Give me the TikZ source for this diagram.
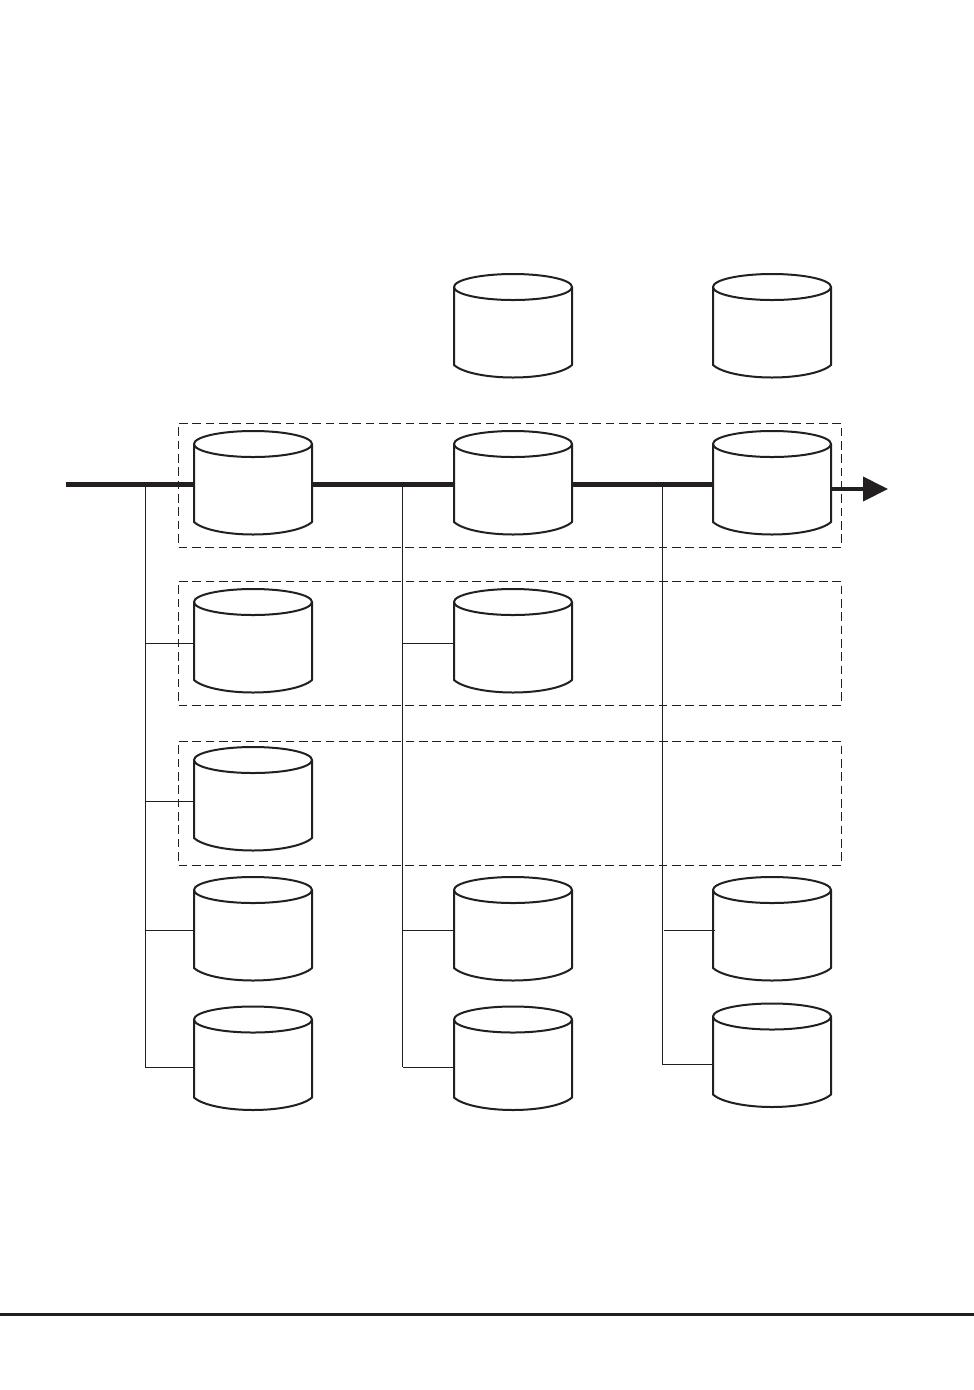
\documentclass[tikz,border=0pt]{standalone}
\usetikzlibrary{arrows.meta,calc}
\definecolor{ink}{HTML}{231F20}
\tikzset{
  x=0.75pt,y=-0.75pt,
  cylbox/.style={rectangle,inner sep=0pt,minimum width=88.5pt,minimum height=77.25pt},
  cylline/.style={draw=ink,line width=1.5pt,line join=round},
  mainline/.style={draw=ink,line width=3.1pt},
  branch/.style={draw=ink,line width=0.65pt},
  groupbox/.style={draw=ink,line width=0.6pt,dash pattern=on 6.5pt off 3.5pt},
  rulebar/.style={draw=ink,line width=1.6pt},
}
% \cyl{name}{centre x}{top y}
\newcommand{\cyl}[3]{%
  \node[cylbox] (#1) at (#2,#3+51.5) {};
  \draw[cylline,fill=white] (#2-59,#3+13)
    arc[start angle=180,end angle=0,x radius=59,y radius=13]
    -- (#2+59,#3+91)
    .. controls (#2+50,#3+99) and (#2+25,#3+103.5) .. (#2,#3+103.5)
    .. controls (#2-25,#3+103.5) and (#2-50,#3+99) .. (#2-59,#3+91)
    -- cycle;
  \draw[cylline] (#2-59,#3+13)
    arc[start angle=180,end angle=360,x radius=59,y radius=13];
}
\begin{document}
\begin{tikzpicture}
\useasboundingbox (0,0) rectangle (974,1390);
\fill[white] (0,0) rectangle (974,1390);

% dashed groups
\node[groupbox,rectangle,inner sep=0pt,minimum width=496.9pt,minimum height=93pt] (g1) at (510,485) {};
\node[groupbox,rectangle,inner sep=0pt,minimum width=496.9pt,minimum height=93pt] (g2) at (510,643) {};
\node[groupbox,rectangle,inner sep=0pt,minimum width=496.9pt,minimum height=93pt] (g3) at (510,803) {};

% free ends and junctions
\coordinate (in) at (66,484.5);
\coordinate (out) at (888,489);
\coordinate (ja0) at (145,484.5);
\coordinate (jb0) at (402.5,484.5);
\coordinate (jc0) at (662,484.5);
\coordinate (ja1) at (145,643);
\coordinate (ja2) at (145,801);
\coordinate (ja3) at (145,930.5);
\coordinate (ja4) at (145,1067);
\coordinate (jb1) at (402.5,643);
\coordinate (jb3) at (402.5,930.5);
\coordinate (jb4) at (402.5,1067);
\coordinate (jc3) at (664,930.5);
\coordinate (jc3e) at (715,930.5);
\coordinate (jc4) at (662,1064);

% thin branches
\draw[branch] (ja0) -- (ja4);
\draw[branch] (jb0) -- (jb4);
\draw[branch] (jc0) -- (jc4);

% cylinders
\cyl{t2}{513}{274}
\cyl{t3}{772}{274}
\cyl{a1}{253}{431}
\cyl{b1}{513}{431}
\cyl{c1}{772}{431}
\cyl{a2}{253}{589}
\cyl{b2}{513}{589}
\cyl{a3}{253}{747}
\cyl{a4}{253}{877}
\cyl{b4}{513}{877}
\cyl{c4}{772}{877}
\cyl{a5}{253}{1006.5}
\cyl{b5}{513}{1006.5}
\cyl{c5}{772}{1003.5}

% branch stubs
\draw[branch] (ja1) -- (ja1 -| a2.west);
\draw[branch] (ja2) -- (ja2 -| a3.west);
\draw[branch] (ja3) -- (ja3 -| a4.west);
\draw[branch] (ja4) -- (ja4 -| a5.west);
\draw[branch] (jb1) -- (jb1 -| b2.west);
\draw[branch] (jb3) -- (jb3 -| b4.west);
\draw[branch] (jb4) -- (jb4 -| b5.west);
\draw[branch] (jc3) -- (jc3e);
\draw[branch] (jc4) -- (jc4 -| c5.west);

% main line
\draw[mainline] (in) -- (in -| a1.west);
\draw[mainline] (in -| a1.east) -- (in -| b1.west);
\draw[mainline] (in -| b1.east) -- (in -| c1.west);
\draw[mainline,-{Triangle[length=18.75pt,width=18pt]}] (out -| c1.east) -- (out);

% foot rule
\coordinate (fl) at (0,1314.5);
\coordinate (fr) at (974,1314.5);
\draw[rulebar] (fl) -- (fr);
\end{tikzpicture}
\end{document}
